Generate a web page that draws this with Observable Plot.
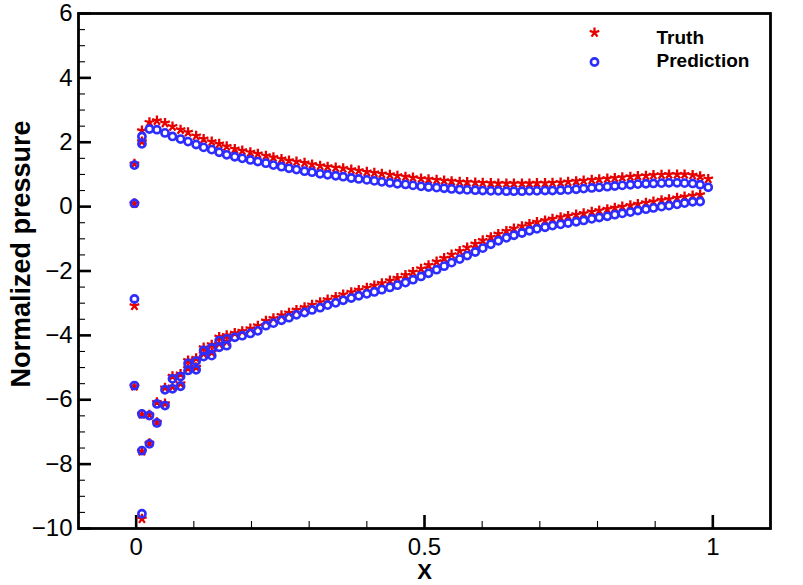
<!DOCTYPE html>
<html><head><meta charset="utf-8">
<script src="https://cdn.jsdelivr.net/npm/d3@7"></script>
<script src="https://cdn.jsdelivr.net/npm/@observablehq/plot@0.6"></script>
<style>html,body{margin:0;padding:0;background:#fff}#chart{width:803px;height:585px}</style>
</head><body><div id="chart"></div>
<script>
// ---------- data ----------
const seriesNames = ["Truth", "Prediction"];

const upperX = [-0.003,-0.003,0.010,0.010,0.023,0.036,0.050,0.063,0.077,0.090,0.104,0.117,0.131,0.144,0.157,0.171,0.184,0.198,0.211,0.225,0.238,0.252,0.265,0.278,0.292,0.305,0.319,0.332,0.346,0.359,0.373,0.386,0.400,0.413,0.426,0.440,0.453,0.467,0.480,0.494,0.507,0.521,0.534,0.547,0.561,0.574,0.588,0.601,0.615,0.628,0.642,0.655,0.669,0.682,0.695,0.709,0.722,0.736,0.749,0.763,0.776,0.790,0.803,0.817,0.830,0.843,0.857,0.870,0.884,0.897,0.911,0.924,0.938,0.951,0.965,0.978,0.992];
const upperTruth = [0.10,1.33,2.02,2.36,2.62,2.67,2.60,2.49,2.39,2.31,2.20,2.10,2.02,1.95,1.87,1.79,1.74,1.69,1.64,1.58,1.53,1.48,1.43,1.40,1.36,1.31,1.27,1.24,1.21,1.19,1.15,1.12,1.08,1.05,1.02,0.99,0.96,0.93,0.90,0.87,0.85,0.83,0.81,0.79,0.77,0.76,0.75,0.74,0.73,0.72,0.72,0.72,0.72,0.72,0.73,0.73,0.74,0.75,0.77,0.79,0.81,0.83,0.85,0.87,0.89,0.91,0.93,0.95,0.96,0.98,0.99,1.00,1.00,1.00,0.98,0.94,0.86];
const upperPred = [0.10,1.29,1.95,2.18,2.41,2.39,2.29,2.18,2.10,2.02,1.93,1.84,1.77,1.69,1.61,1.55,1.50,1.45,1.40,1.35,1.29,1.24,1.19,1.15,1.10,1.07,1.02,0.99,0.96,0.93,0.89,0.86,0.83,0.80,0.77,0.74,0.71,0.69,0.66,0.63,0.61,0.59,0.57,0.55,0.53,0.52,0.51,0.50,0.49,0.49,0.48,0.48,0.48,0.49,0.49,0.50,0.50,0.51,0.52,0.54,0.56,0.58,0.60,0.62,0.64,0.66,0.68,0.70,0.71,0.72,0.73,0.74,0.74,0.73,0.72,0.68,0.60];

const lowerX = [-0.003,-0.003,0.010,0.010,0.010,0.023,0.023,0.036,0.036,0.050,0.050,0.063,0.063,0.077,0.077,0.090,0.090,0.104,0.104,0.117,0.117,0.131,0.131,0.144,0.144,0.157,0.157,0.171,0.184,0.198,0.211,0.225,0.238,0.252,0.265,0.278,0.292,0.305,0.319,0.332,0.346,0.359,0.373,0.386,0.400,0.413,0.426,0.440,0.453,0.467,0.480,0.494,0.507,0.521,0.534,0.547,0.561,0.574,0.588,0.601,0.615,0.628,0.642,0.655,0.669,0.682,0.695,0.709,0.722,0.736,0.749,0.763,0.776,0.790,0.803,0.817,0.830,0.843,0.857,0.870,0.884,0.897,0.911,0.924,0.938,0.951,0.965,0.978];
const lowerTruth = [-3.08,-5.58,-9.70,-7.60,-6.45,-7.35,-6.47,-6.70,-6.08,-6.12,-5.63,-5.60,-5.27,-5.50,-5.20,-5.02,-4.78,-4.99,-4.71,-4.57,-4.38,-4.53,-4.29,-4.26,-4.05,-4.20,-4.00,-3.93,-3.87,-3.79,-3.70,-3.55,-3.47,-3.38,-3.30,-3.21,-3.13,-3.05,-2.97,-2.89,-2.81,-2.73,-2.66,-2.59,-2.52,-2.45,-2.38,-2.30,-2.22,-2.13,-2.03,-1.93,-1.82,-1.71,-1.60,-1.49,-1.38,-1.27,-1.16,-1.05,-0.95,-0.85,-0.76,-0.68,-0.61,-0.54,-0.48,-0.43,-0.38,-0.33,-0.29,-0.25,-0.21,-0.16,-0.12,-0.08,-0.04,0.00,0.04,0.08,0.12,0.16,0.20,0.23,0.27,0.31,0.34,0.37];
const lowerPred = [-2.87,-5.56,-9.54,-7.58,-6.44,-7.37,-6.49,-6.72,-6.13,-6.18,-5.69,-5.66,-5.35,-5.58,-5.28,-5.09,-4.87,-5.07,-4.80,-4.66,-4.47,-4.63,-4.39,-4.37,-4.16,-4.32,-4.11,-4.06,-4.01,-3.94,-3.86,-3.70,-3.62,-3.53,-3.45,-3.36,-3.29,-3.21,-3.14,-3.06,-2.99,-2.91,-2.84,-2.77,-2.71,-2.65,-2.58,-2.51,-2.44,-2.36,-2.27,-2.17,-2.07,-1.96,-1.85,-1.74,-1.63,-1.52,-1.41,-1.29,-1.17,-1.06,-0.97,-0.89,-0.82,-0.75,-0.69,-0.64,-0.59,-0.55,-0.51,-0.47,-0.43,-0.38,-0.34,-0.30,-0.25,-0.21,-0.17,-0.12,-0.08,-0.04,0.00,0.03,0.07,0.11,0.15,0.16];

const xMajorTicks = [0, 0.5, 1];
const xMinorTicks = [0.1, 0.2, 0.3, 0.4, 0.6, 0.7, 0.8, 0.9];
const yMajorTicks = [-10, -8, -6, -4, -2, 0, 2, 4, 6];
const yMinorTicks = [-9.5,-9,-8.5,-7.5,-7,-6.5,-5.5,-5,-4.5,-3.5,-3,-2.5,-1.5,-1,-0.5,0.5,1,1.5,2.5,3,3.5,4.5,5,5.5];

// ---------- build tables ----------
const truthPts = [
  ...upperX.map((x, i) => ({x, y: upperTruth[i]})),
  ...lowerX.map((x, i) => ({x, y: lowerTruth[i]}))
];
const predPts = [
  ...upperX.map((x, i) => ({x, y: upperPred[i]})),
  ...lowerX.map((x, i) => ({x, y: lowerPred[i]}))
];

const RED = "#e60000", BLUE = "#2d2dff";
// five-armed asterisk like the reference's "star" marker
const star5 = {
  draw(context, size) {
    const r = Math.sqrt(size / Math.PI) * 1.1;
    for (let k = 0; k < 5; k++) {
      const a = -Math.PI / 2 + k * 2 * Math.PI / 5;
      context.moveTo(0, 0);
      context.lineTo(r * Math.cos(a), r * Math.sin(a));
    }
  }
};

const FONT = '"Liberation Sans", Arial, Helvetica, sans-serif';
const fmt = d => String(d).replace("-", "\u2212");

const chart = Plot.plot({
  width: 803, height: 585,
  marginLeft: 78, marginRight: 33, marginTop: 13, marginBottom: 57,
  x: {domain: [-0.1, 1.1], label: null},
  y: {domain: [-10, 6], label: null},
  style: {fontFamily: FONT, fontSize: "24px", background: "#fff", color: "#000"},
  marks: [
    // tick labels
    Plot.axisX(xMajorTicks, {tickSize: 0, tickPadding: 9, label: null, fontSize: 24, tickFormat: fmt}),
    Plot.axisY(yMajorTicks, {tickSize: 0, tickPadding: 6, label: null, fontSize: 24, tickFormat: fmt}),
    // inward ticks
    Plot.axisX(xMajorTicks, {tickSize: -13, tickFormat: () => "", label: null, strokeWidth: 2.6}),
    Plot.axisX(xMinorTicks, {tickSize: -7, tickFormat: () => "", label: null, strokeWidth: 1.1}),
    Plot.axisY(yMajorTicks, {tickSize: -13, tickFormat: () => "", label: null, strokeWidth: 2.6}),
    Plot.axisY(yMinorTicks, {tickSize: -7, tickFormat: () => "", label: null, strokeWidth: 1.1}),
    // data
    Plot.dot(truthPts, {x: "x", y: "y", symbol: star5, r: 4.6, stroke: RED, strokeWidth: 2.3, fill: "none"}),
    Plot.dot(predPts, {x: "x", y: "y", symbol: "circle", r: 3.6, stroke: BLUE, strokeWidth: 2.6, fill: "none"}),
    // frame
    Plot.frame({stroke: "#000", strokeWidth: 2.8}),
    // axis titles
    Plot.text(["Normalized pressure"], {frameAnchor: "left", rotate: -90, dx: -57, dy: -17, textAnchor: "middle", lineAnchor: "middle", fontWeight: "bold", fontSize: 27}),
    Plot.text(["X"], {frameAnchor: "bottom", dy: 43, textAnchor: "middle", lineAnchor: "middle", fontWeight: "bold", fontSize: 22}),
    // legend
    Plot.dot([seriesNames[0]], {frameAnchor: "top-left", dx: 516, dy: 19, symbol: star5, r: 4.6, stroke: RED, strokeWidth: 2.3, fill: "none"}),
    Plot.dot([seriesNames[1]], {frameAnchor: "top-left", dx: 516, dy: 48.5, symbol: "circle", r: 3.6, stroke: BLUE, strokeWidth: 2.6, fill: "none"}),
    Plot.text([seriesNames[0]], {frameAnchor: "top-left", dx: 578, dy: 24, textAnchor: "start", lineAnchor: "middle", fontWeight: "bold", fontSize: 19}),
    Plot.text([seriesNames[1]], {frameAnchor: "top-left", dx: 578, dy: 47.5, textAnchor: "start", lineAnchor: "middle", fontWeight: "bold", fontSize: 19})
  ]
});
document.getElementById("chart").appendChild(chart);
</script>
</body></html>
